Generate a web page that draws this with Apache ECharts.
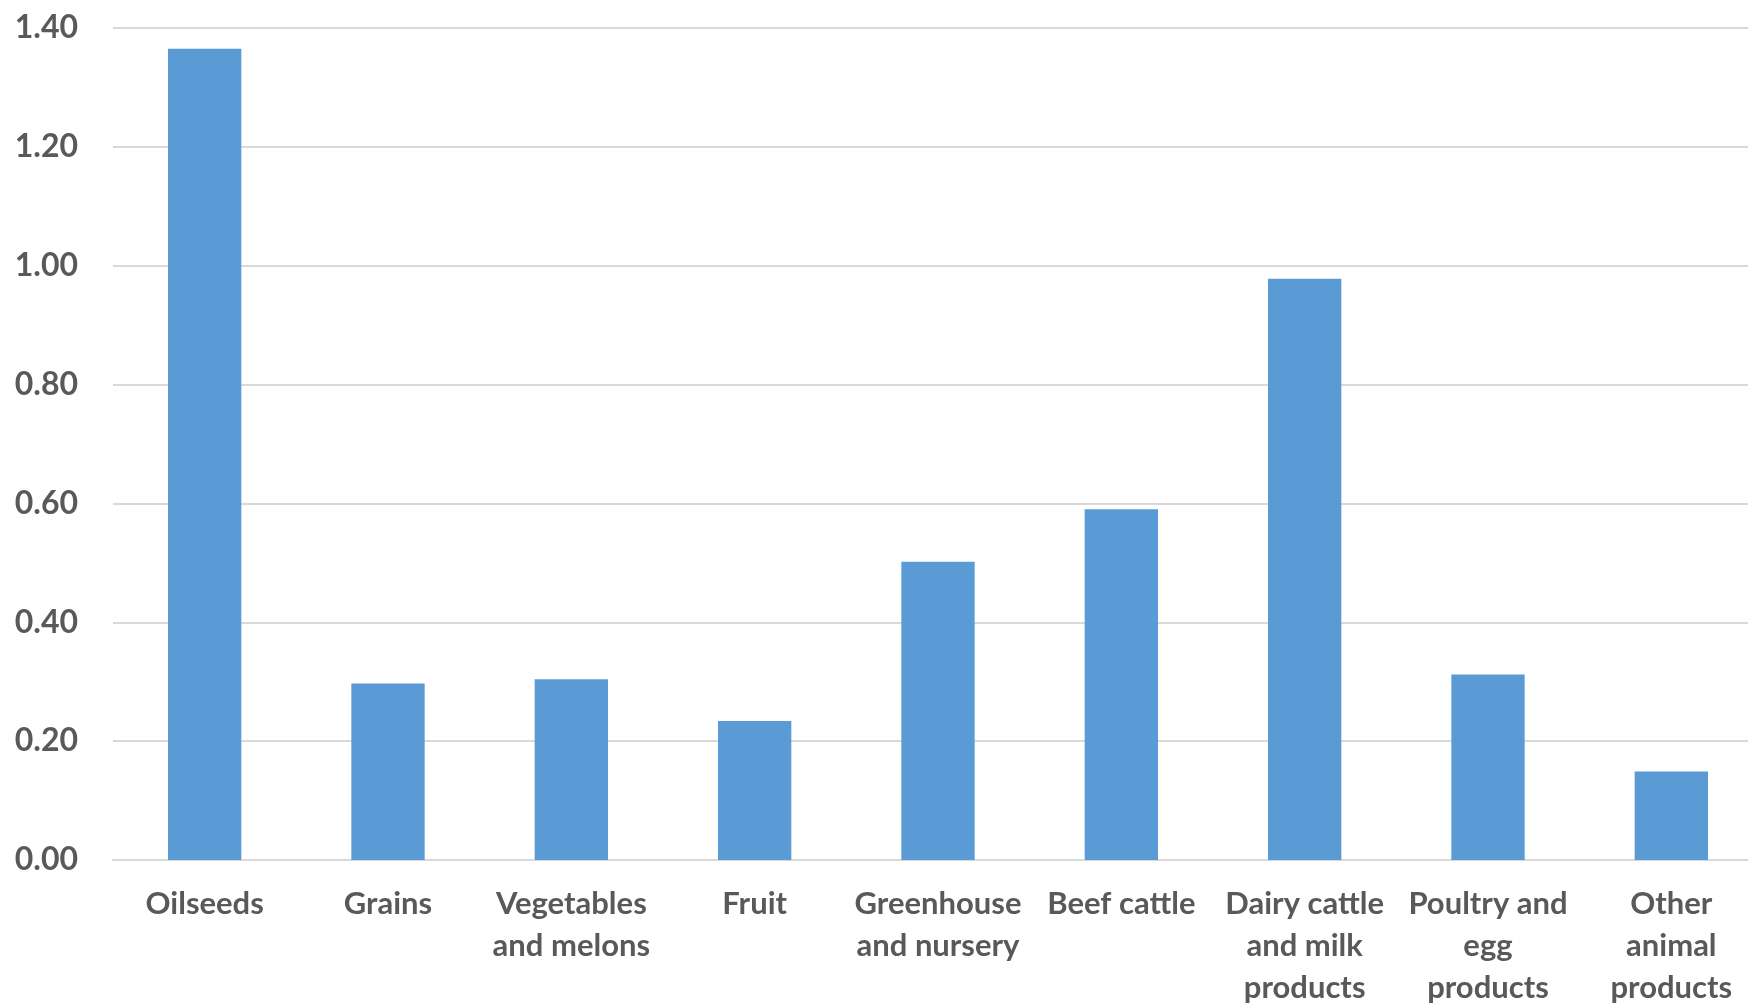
<!DOCTYPE html>
<html>
<head>
<meta charset="utf-8">
<title>Output multipliers by sector</title>
<script src="https://cdn.jsdelivr.net/npm/echarts@6/dist/echarts.min.js"></script>
<style>
  html, body { margin: 0; padding: 0; background: #ffffff; overflow: hidden; }
  #chart { width: 1748px; height: 1005px; }
</style>
</head>
<body>
<div id="chart"></div>
<script>
// Sector names (line breaks as wrapped under the axis)
const categories = [
  'Oilseeds',
  'Grains',
  'Vegetables\nand melons',
  'Fruit',
  'Greenhouse\nand nursery',
  'Beef cattle',
  'Dairy cattle\nand milk\nproducts',
  'Poultry and\negg\nproducts',
  'Other\nanimal\nproducts'
];

// Value for each sector
const values = [1.365, 0.297, 0.304, 0.234, 0.502, 0.590, 0.978, 0.312, 0.149];

// Value axis range and step
const yMin = 0;
const yMax = 1.4;
const yStep = 0.2;

const textColor = '#595959';
const gridColor = '#d9d9d9';
const fontFamily = 'Lato, "Open Sans", sans-serif';

const chart = echarts.init(document.getElementById('chart'), null, { renderer: 'canvas' });

chart.setOption({
  backgroundColor: '#ffffff',
  animation: false,
  grid: {
    left: 113,
    right: -15,   // plot area runs slightly past the right edge
    top: 28,
    bottom: 145,
    containLabel: false,
    outerBoundsMode: 'none'
  },
  xAxis: {
    type: 'category',
    data: categories,
    axisLine: { show: true, lineStyle: { color: gridColor, width: 2 } },
    axisTick: { show: false },
    axisLabel: {
      interval: 0,
      margin: 23,
      color: textColor,
      fontFamily: fontFamily,
      fontWeight: 'bold',
      fontSize: 31,
      lineHeight: 42,
      align: 'center'
    }
  },
  yAxis: {
    type: 'value',
    min: yMin,
    max: yMax,
    interval: yStep,
    axisLine: { show: false },
    axisTick: { show: false },
    splitLine: { show: true, lineStyle: { color: gridColor, width: 2 } },
    axisLabel: {
      margin: 35,
      color: textColor,
      fontFamily: fontFamily,
      fontWeight: 'bold',
      fontSize: 32,
      formatter: v => v.toFixed(2)
    }
  },
  series: [{
    type: 'bar',
    data: values,
    barCategoryGap: '60%',
    itemStyle: { color: '#5b9bd5' }
  }]
});
</script>
</body>
</html>
